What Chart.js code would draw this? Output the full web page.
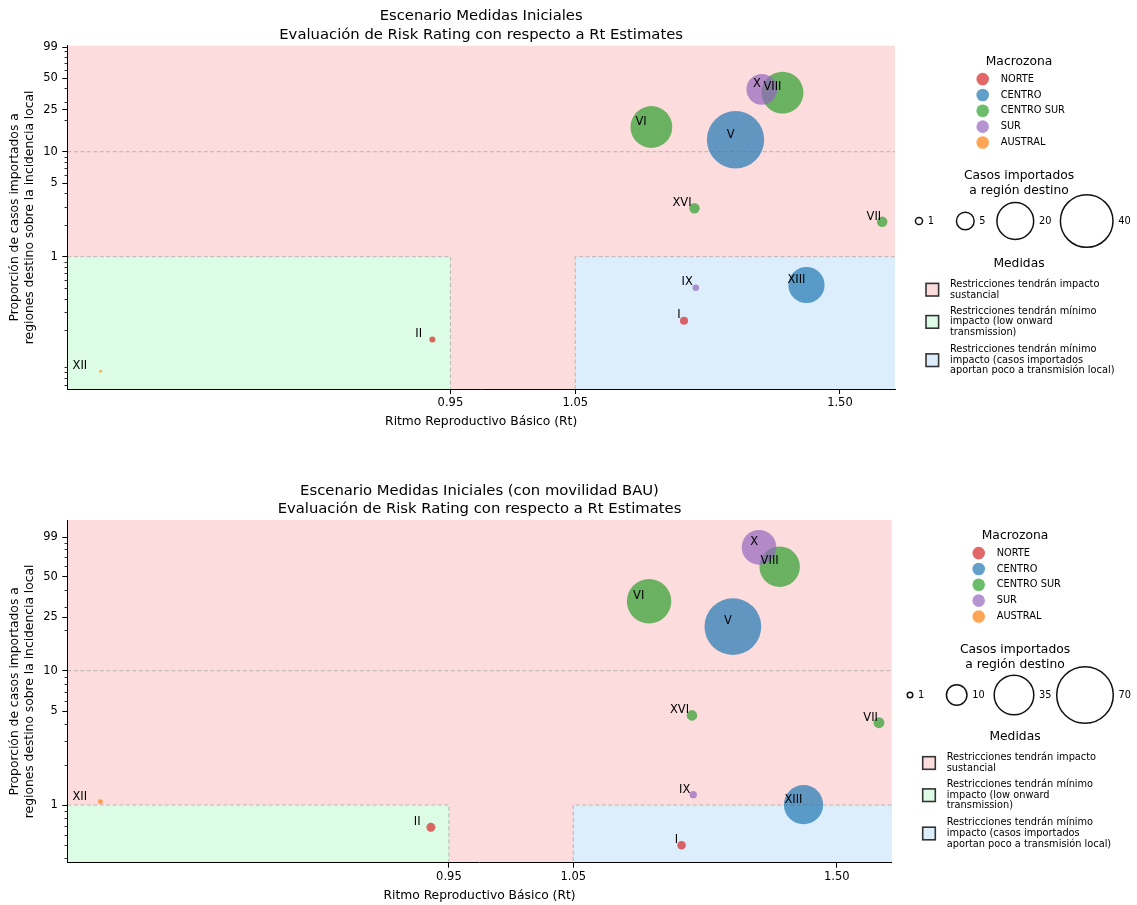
<!DOCTYPE html>
<html>
<head>
<meta charset="utf-8">
<script src="https://cdn.jsdelivr.net/npm/chart.js@4"></script>
<style>
  body { margin: 0; background: #fff; }
  .wrap { position: absolute; left: 0; width: 1137px; }
  #wrapTop { top: 0; height: 440px; }
  #wrapBau { top: 460px; height: 445px; }
</style>
</head>
<body>
<div class="wrap" id="wrapTop"><canvas id="chartTop"></canvas></div>
<div class="wrap" id="wrapBau"><canvas id="chartBau"></canvas></div>
<script>
// Regiones y su macrozona
const regions = ['I', 'II', 'V', 'XIII', 'VI', 'VII', 'VIII', 'XVI', 'IX', 'X', 'XII'];
const regionZones = ['NORTE', 'NORTE', 'CENTRO', 'CENTRO', 'CENTRO SUR', 'CENTRO SUR', 'CENTRO SUR', 'CENTRO SUR', 'SUR', 'SUR', 'AUSTRAL'];
const rtValues = [1.184, 0.939, 1.269, 1.416, 1.138, 1.622, 1.362, 1.200, 1.202, 1.319, 0.8265];

// Escenario Medidas Iniciales
const ratioBase = [0.246, 0.163, 13.0, 0.538, 17.2, 2.15, 36.5, 2.89, 0.507, 39.3, 0.081];
const casesBase = [0.9, 0.5, 45, 18, 24, 1.5, 24, 1.5, 0.6, 13, 0.1];
const sizeKeysBase = [1, 5, 20, 40];

// Escenario Medidas Iniciales (con movilidad BAU)
const ratioBau = [0.501, 0.682, 21.3, 1.005, 32.9, 4.10, 59.5, 4.65, 1.193, 82.9, 1.058];
const casesBau = [1.5, 1.7, 67, 32, 41, 2.5, 34, 2.3, 1.1, 25, 0.5];
const sizeKeysBau = [1, 10, 35, 70];

const zoneNames = ['NORTE', 'CENTRO', 'CENTRO SUR', 'SUR', 'AUSTRAL'];
const zoneColors = ['#d62728', '#1f77b4', '#2ca02c', '#9467bd', '#ff7f0e'];

const rtTicks = [0.95, 1.05, 1.50];
const ratioTicks = [1, 5, 10, 25, 50, 99];
const rtLimits = [0.8211, 1.663];

// umbrales de las zonas de riesgo
const rtLow = 0.95, rtHigh = 1.05, ratioLow = 1, ratioHigh = 10;

const medidas = [
  { color: '#fcdcdc', lines: ['Restricciones tendrán impacto', 'sustancial'] },
  { color: '#dcfce6', lines: ['Restricciones tendrán mínimo', 'impacto (low onward', 'transmission)'] },
  { color: '#dceefc', lines: ['Restricciones tendrán mínimo', 'impacto (casos importados', 'aportan poco a transmisión local)'] }
];

const FONT = '"DejaVu Sans", sans-serif';

// eje Rt no lineal: log(Rt - 0.78)
const RT_SHIFT = 0.78;
const toAxis = rt => Math.log(rt - RT_SHIFT);
const fromAxis = u => RT_SHIFT + Math.exp(u);

function rgba(hex, a) {
  const n = parseInt(hex.slice(1), 16);
  return `rgba(${(n >> 16) & 255},${(n >> 8) & 255},${n & 255},${a})`;
}

function drawZones(chart) {
  const { ctx, chartArea: a, scales: { x, y } } = chart;
  const xl = x.getPixelForValue(toAxis(rtLow));
  const xh = x.getPixelForValue(toAxis(rtHigh));
  const y1 = y.getPixelForValue(ratioLow);
  const y10 = y.getPixelForValue(ratioHigh);
  ctx.save();
  ctx.fillStyle = medidas[0].color;
  ctx.fillRect(a.left, a.top, a.width, a.height);
  ctx.fillStyle = medidas[1].color;
  ctx.fillRect(a.left, y1, xl - a.left, a.bottom - y1);
  ctx.fillStyle = medidas[2].color;
  ctx.fillRect(xh, y1, a.right - xh, a.bottom - y1);

  ctx.strokeStyle = 'rgba(160,160,160,0.7)';
  ctx.lineWidth = 1;
  ctx.setLineDash([4, 2.5]);
  ctx.beginPath();
  ctx.moveTo(a.left, y1); ctx.lineTo(xl, y1); ctx.lineTo(xl, a.bottom);
  ctx.moveTo(a.right, y1); ctx.lineTo(xh, y1); ctx.lineTo(xh, a.bottom);
  ctx.moveTo(a.left, y10); ctx.lineTo(a.right, y10);
  ctx.stroke();
  ctx.restore();
}

function drawMinorTicks(chart) {
  const { ctx, chartArea: a, scales: { y } } = chart;
  ctx.save();
  ctx.strokeStyle = '#000';
  ctx.lineWidth = 0.8;
  ctx.beginPath();
  for (let e = -2; e <= 2; e++) {
    for (let m = 2; m <= 9; m++) {
      const v = m * Math.pow(10, e);
      if (v < y.min || v > y.max || ratioTicks.includes(v)) continue;
      const py = Math.round(y.getPixelForValue(v)) + 0.5;
      ctx.moveTo(a.left, py); ctx.lineTo(a.left - 2.8, py);
    }
  }
  ctx.stroke();
  ctx.restore();
}

function drawRegionLabels(chart) {
  const { ctx, scales: { x, y } } = chart;
  const ratios = chart.config.options.ratios;
  ctx.save();
  ctx.fillStyle = '#000';
  ctx.font = `11.5px ${FONT}`;
  ctx.textAlign = 'right';
  ctx.textBaseline = 'alphabetic';
  regions.forEach((r, i) => {
    const px = x.getPixelForValue(toAxis(rtValues[i]));
    const py = y.getPixelForValue(ratios[i]);
    const dx = 1 + Math.max(0, 1.27 - rtValues[i]) * 28;
    ctx.fillText(r, px - dx, py - 2.2);
  });
  ctx.restore();
}

function drawTitles(chart) {
  const { ctx, chartArea: a } = chart;
  const t = chart.config.options.titleBlock;
  ctx.save();
  ctx.fillStyle = '#000';
  ctx.font = `14.8px ${FONT}`;
  ctx.textAlign = 'center';
  ctx.textBaseline = 'alphabetic';
  const cx = (a.left + a.right) / 2;
  t.lines.forEach((line, i) => ctx.fillText(line, cx, t.baselines[i]));
  ctx.restore();
}

function drawLegends(chart) {
  const ctx = chart.ctx;
  const o = chart.config.options;
  const L = o.legendBlock;
  ctx.save();
  ctx.textBaseline = 'middle';

  // Macrozona
  ctx.fillStyle = '#000';
  ctx.textAlign = 'center';
  ctx.font = `12.3px ${FONT}`;
  ctx.fillText('Macrozona', L.cx, L.top);
  ctx.font = `9.8px ${FONT}`;
  ctx.textAlign = 'left';
  zoneNames.forEach((z, i) => {
    const yy = L.top + 17.4 + i * 15.85;
    ctx.beginPath();
    ctx.arc(L.cx - 36.3, yy, 6.3, 0, Math.PI * 2);
    ctx.fillStyle = rgba(zoneColors[i], 0.7);
    ctx.fill();
    ctx.fillStyle = '#000';
    ctx.fillText(z, L.cx - 18.3, yy);
  });

  // Casos importados
  ctx.textAlign = 'center';
  ctx.font = `12.3px ${FONT}`;
  ctx.fillText('Casos importados', L.cx, L.top + 114.3);
  ctx.fillText('a región destino', L.cx, L.top + 129);
  ctx.font = `9.8px ${FONT}`;
  ctx.textAlign = 'left';
  ctx.strokeStyle = '#111';
  ctx.lineWidth = 1.5;
  const rowY = L.top + 159.3;
  o.sizeKeys.forEach((n, i) => {
    const r = o.sizeScale * Math.sqrt(n);
    const cx = L.cx + L.sizeOffsets[i];
    ctx.beginPath();
    ctx.arc(cx, rowY, r - 0.7, 0, Math.PI * 2);
    ctx.stroke();
    ctx.fillText(String(n), cx + r + 4.5, rowY);
  });

  // Medidas
  const mt = L.top + L.medidasOffset;
  ctx.textAlign = 'center';
  ctx.font = `12.3px ${FONT}`;
  ctx.fillText('Medidas', L.cx, mt);
  ctx.font = `9.8px ${FONT}`;
  ctx.textAlign = 'left';
  const itemY = [25.7, 57.9, 96.2];
  medidas.forEach((m, i) => {
    const cy = mt + itemY[i];
    const sx = L.cx + L.squareDx;
    ctx.fillStyle = m.color;
    ctx.fillRect(sx - 6.3, cy - 6.3, 12.6, 12.6);
    ctx.strokeStyle = '#333';
    ctx.lineWidth = 1.6;
    ctx.strokeRect(sx - 6.3, cy - 6.3, 12.6, 12.6);
    ctx.fillStyle = '#000';
    const n = m.lines.length;
    m.lines.forEach((line, j) => {
      ctx.fillText(line, L.cx + L.textDx, cy + (j - (n - 1) / 2) * 10.7);
    });
  });
  ctx.restore();
}

const riskPlugin = {
  id: 'riskPlot',
  beforeDraw: drawZones,
  afterDatasetsDraw: drawRegionLabels,
  afterDraw(chart) {
    drawMinorTicks(chart);
    drawTitles(chart);
    drawLegends(chart);
  }
};

function makeChart(canvasId, cfg) {
  const points = regions.map((r, i) => ({
    x: toAxis(rtValues[i]),
    y: cfg.ratios[i],
    r: cfg.sizeScale * Math.sqrt(cfg.cases[i])
  }));
  const colors = regionZones.map(z => rgba(zoneColors[zoneNames.indexOf(z)], 0.7));
  const tickFont = { family: FONT, size: 11.5 };
  const labelFont = { family: FONT, size: 12.3 };

  return new Chart(document.getElementById(canvasId), {
    type: 'bubble',
    data: {
      datasets: [{
        data: points,
        backgroundColor: colors,
        borderWidth: 0,
        hoverBorderWidth: 0
      }]
    },
    options: {
      responsive: true,
      maintainAspectRatio: false,
      animation: false,
      events: [],
      ratios: cfg.ratios,
      sizeScale: cfg.sizeScale,
      sizeKeys: cfg.sizeKeys,
      titleBlock: cfg.title,
      legendBlock: cfg.legend,
      layout: { padding: { top: cfg.padTop, right: cfg.padRight, bottom: 0, left: 0 } },
      plugins: { legend: { display: false }, tooltip: { enabled: false } },
      scales: {
        x: {
          type: 'linear',
          min: toAxis(rtLimits[0]),
          max: toAxis(rtLimits[1]),
          afterBuildTicks: s => { s.ticks = rtTicks.map(v => ({ value: toAxis(v) })); },
          afterFit: s => { s.height = cfg.xAxisHeight; },
          ticks: {
            callback: v => fromAxis(v).toFixed(2),
            font: tickFont, color: '#000', padding: 2.5, autoSkip: false, maxRotation: 0
          },
          grid: { display: true, drawOnChartArea: false, drawTicks: true, tickLength: 5, tickColor: '#000' },
          border: { display: true, color: '#000', width: 1 },
          title: {
            display: true, text: 'Ritmo Reproductivo Básico (Rt)',
            font: labelFont, color: '#000', padding: { top: 0, bottom: cfg.xTitlePad }
          }
        },
        y: {
          type: 'logarithmic',
          min: cfg.yLimits[0],
          max: cfg.yLimits[1],
          afterBuildTicks: s => { s.ticks = ratioTicks.map(v => ({ value: v })); },
          afterFit: s => { s.width = 67.3; },
          ticks: { callback: v => String(v), font: tickFont, color: '#000', padding: 4.5, autoSkip: false },
          grid: { display: true, drawOnChartArea: false, drawTicks: true, tickLength: 5, tickColor: '#000' },
          border: { display: true, color: '#000', width: 1 },
          title: {
            display: true,
            text: ['Proporción de casos importados a', 'regiones destino sobre la incidencia local'],
            font: labelFont, color: '#000', padding: { top: 7.6, bottom: 0 }
          }
        }
      }
    },
    plugins: [riskPlugin]
  });
}

makeChart('chartTop', {
  ratios: ratioBase,
  cases: casesBase,
  sizeKeys: sizeKeysBase,
  sizeScale: 4.27,
  yLimits: [0.055, 102.2],
  padTop: 45.7,
  padRight: 242,
  xAxisHeight: 51,
  xTitlePad: 10.9,
  title: {
    lines: ['Escenario Medidas Iniciales', 'Evaluación de Risk Rating con respecto a Rt Estimates'],
    baselines: [20, 39.3]
  },
  legend: { cx: 1019, top: 61.7, sizeOffsets: [-100, -53.7, -3.7, 67.7], medidasOffset: 202.3, squareDx: -86.7, textDx: -69 }
});

makeChart('chartBau', {
  ratios: ratioBau,
  cases: casesBau,
  sizeKeys: sizeKeysBau,
  sizeScale: 3.466,
  yLimits: [0.372, 132.5],
  padTop: 60,
  padRight: 245.3,
  xAxisHeight: 42.3,
  xTitlePad: 1.6,
  title: {
    lines: ['Escenario Medidas Iniciales (con movilidad BAU)', 'Evaluación de Risk Rating con respecto a Rt Estimates'],
    baselines: [35, 53.3]
  },
  legend: { cx: 1015, top: 75.7, sizeOffsets: [-105, -58.3, -1, 70], medidasOffset: 201.6, squareDx: -86, textDx: -68.3 }
});
</script>
</body>
</html>
